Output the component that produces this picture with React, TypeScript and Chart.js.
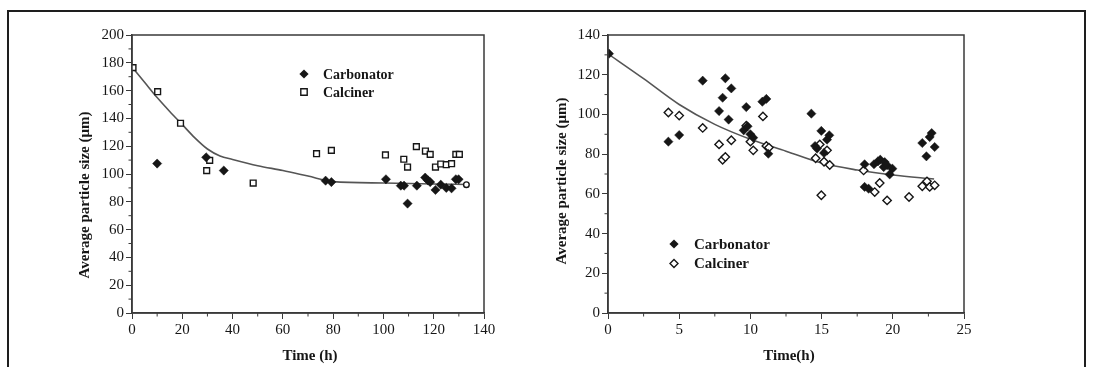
import { useEffect, useRef } from "react";
import { Chart, registerables } from "chart.js";

Chart.register(...registerables);

// ---------- Left panel data ----------
const leftCarbonatorTime = [10, 29.5, 36.5, 77, 79.3, 101, 106.9, 108.2, 109.6, 113.3, 116.6, 117.7, 118.6, 120.7, 122.8, 125, 127.1, 128.8, 129.9];
const leftCarbonatorSize = [107.5, 112, 102.5, 95.2, 94.2, 96.2, 91.6, 91.6, 78.7, 91.6, 97.4, 95.4, 94.2, 88.5, 92.3, 90, 89.7, 96.2, 96.2];
const leftCalcinerTime = [0.4, 10.2, 19.3, 29.7, 30.9, 48.2, 73.4, 79.3, 100.8, 108.1, 109.6, 113.1, 116.7, 118.6, 120.7, 122.8, 125, 127.1, 128.8, 130.2, 133];
const leftCalcinerSize = [176.5, 159.2, 136.5, 102.4, 109.8, 93.5, 114.6, 117, 113.7, 110.6, 105, 119.7, 116.5, 114.1, 105, 107.2, 106.7, 107.4, 114.1, 114.1, 92.3];
const leftFitTime = [0, 5, 10, 15, 20, 25, 30, 35, 40, 50, 60, 70, 80, 100, 120, 133];
const leftFitSize = [177, 166, 155, 145, 135.5, 126, 118, 113, 110.5, 106, 102.5, 98.5, 94.5, 93.5, 92.8, 92.5];
const leftXTicks = { min: 0, max: 140, step: 20 };
const leftYTicks = { min: 0, max: 200, step: 20 };

// ---------- Right panel data ----------
const rightCarbonatorTime = [0.07, 4.24, 5.0, 6.65, 7.8, 8.05, 8.24, 8.47, 8.66, 9.53, 9.71, 9.8, 10.0, 10.2, 10.84, 11.12, 11.26, 14.28, 14.54, 14.68, 14.98, 15.17, 15.38, 15.54, 18.02, 18.02, 18.3, 18.68, 18.96, 19.12, 19.36, 19.43, 19.6, 19.78, 19.97, 22.07, 22.36, 22.59, 22.73, 22.94];
const rightCarbonatorSize = [130.6, 86.3, 89.6, 117, 101.7, 108.4, 118.2, 97.4, 113.1, 92, 103.7, 94, 90, 88.3, 106.4, 107.8, 80.2, 100.4, 84.1, 82.8, 91.7, 80.6, 87.3, 89.5, 74.9, 63.5, 62.6, 74.9, 76.4, 77.2, 73.5, 76, 74.4, 69.8, 72.7, 85.6, 78.9, 88.6, 90.6, 83.6];
const rightCalcinerTime = [4.24, 5.0, 6.65, 7.8, 8.05, 8.24, 8.66, 9.71, 10.0, 10.2, 10.88, 11.12, 11.3, 14.58, 14.87, 14.98, 15.17, 15.38, 15.57, 17.95, 18.73, 19.08, 19.6, 21.14, 22.07, 22.4, 22.59, 22.94];
const rightCalcinerSize = [101, 99.4, 93.2, 84.9, 77.2, 78.6, 87, 94.3, 86.3, 81.9, 99, 84.1, 83.3, 77.9, 84.9, 59.3, 76.2, 81.9, 74.5, 71.8, 60.9, 65.5, 56.7, 58.4, 63.8, 66.3, 63.5, 64.3];
const rightFitTime = [0, 2.5, 5, 7.5, 10, 12.5, 15, 17.5, 20, 22.9];
const rightFitSize = [130.5, 118, 105, 95, 87.5, 81.5, 75.5, 72, 69.5, 67.5];
const rightXTicks = { min: 0, max: 25, step: 5 };
const rightYTicks = { min: 0, max: 140, step: 20 };

const seriesNames = ["Carbonator", "Calciner"];
const yTitle = "Average particle size (\u03bcm)";
const leftXTitle = "Time (h)";
const rightXTitle = "Time(h)";

const SERIF = "'Liberation Serif', 'Times New Roman', Times, serif";
const INK = "#161616";
const AXIS = "#3a3a3a";

function pts(xs: number[], ys: number[]) {
  return xs.map((x, i) => ({ x, y: ys[i] }));
}

function drawMarker(ctx: CanvasRenderingContext2D, kind: string, x: number, y: number, r: number) {
  ctx.beginPath();
  if (kind === "diamond" || kind === "openDiamond") {
    ctx.moveTo(x, y - r);
    ctx.lineTo(x + r, y);
    ctx.lineTo(x, y + r);
    ctx.lineTo(x - r, y);
    ctx.closePath();
  } else {
    ctx.rect(x - r, y - r, 2 * r, 2 * r);
  }
  if (kind === "diamond") {
    ctx.fillStyle = INK;
    ctx.fill();
  } else {
    ctx.fillStyle = "#fff";
    ctx.fill();
    ctx.strokeStyle = INK;
    ctx.lineWidth = 1.4;
    ctx.stroke();
  }
}

const decorPlugin = {
  id: "decor",
  afterDraw(chart: any, _args: any, opts: any) {
    const { ctx, chartArea } = chart;
    const { left, top, right, bottom } = chartArea;
    const xs = chart.scales.x;
    const ys = chart.scales.y;
    ctx.save();
    ctx.strokeStyle = AXIS;
    ctx.lineWidth = 1.5;
    ctx.strokeRect(left, top, right - left, bottom - top);
    ctx.lineWidth = 1;
    ctx.beginPath();
    const xt = xs.ticks;
    for (let i = 0; i < xt.length - 1; i++) {
      const px = xs.getPixelForValue((xt[i].value + xt[i + 1].value) / 2);
      ctx.moveTo(px, bottom);
      ctx.lineTo(px, bottom + 3.5);
    }
    const yt = ys.ticks;
    for (let i = 0; i < yt.length - 1; i++) {
      const py = ys.getPixelForValue((yt[i].value + yt[i + 1].value) / 2);
      ctx.moveTo(left, py);
      ctx.lineTo(left - 3.5, py);
    }
    ctx.stroke();
    ctx.fillStyle = INK;
    ctx.font = `bold 15px ${SERIF}`;
    ctx.textAlign = "center";
    ctx.textBaseline = "middle";
    ctx.fillText(opts.xTitle, (left + right) / 2 + opts.xTitleDx, opts.xTitleY);
    ctx.save();
    ctx.translate(left + opts.yTitleDx, (top + bottom) / 2 + opts.yTitleDy);
    ctx.rotate(-Math.PI / 2);
    ctx.fillText(yTitle, 0, 0);
    ctx.restore();
    const lg = opts.legend;
    ctx.font = `bold ${lg.size}px ${SERIF}`;
    ctx.textAlign = "left";
    seriesNames.forEach((name: string, i: number) => {
      const y = top + lg.dy + i * lg.gap;
      drawMarker(ctx, lg.markers[i], left + lg.dx, y, lg.r[i]);
      ctx.fillStyle = INK;
      ctx.fillText(name, left + lg.tx, y + 1);
    });
    ctx.restore();
  },
};

function makeConfig(p: any) {
  const tickFont = { family: SERIF, size: 15 };
  return {
    type: "scatter",
    data: {
      datasets: [
        {
          label: seriesNames[0],
          data: pts(p.cx, p.cy),
          pointStyle: "rectRot",
          pointRadius: 4.6,
          backgroundColor: INK,
          borderColor: INK,
          borderWidth: 0.5,
        },
        {
          label: seriesNames[1],
          data: pts(p.kx, p.ky),
          pointStyle: p.calcStyle,
          pointRadius: p.calcRadius,
          backgroundColor: "#ffffff",
          borderColor: INK,
          borderWidth: 1.4,
        },
        {
          label: "fit",
          data: pts(p.fx, p.fy),
          showLine: true,
          pointRadius: 0,
          borderColor: "#555",
          borderWidth: 1.6,
          cubicInterpolationMode: "monotone",
        },
      ],
    },
    options: {
      animation: false,
      responsive: false,
      devicePixelRatio: 1,
      layout: { padding: { top: 35, right: p.padRight, left: 0, bottom: 0 } },
      plugins: {
        legend: { display: false },
        tooltip: { enabled: false },
        decor: p.decor,
      },
      scales: {
        x: {
          type: "linear",
          min: p.xt.min,
          max: p.xt.max,
          afterFit: (s: any) => {
            s.height = 54;
          },
          border: { display: true, color: AXIS, width: 1.5 },
          grid: { drawOnChartArea: false, drawTicks: true, tickLength: 6, color: AXIS, tickWidth: 1 },
          ticks: { stepSize: p.xt.step, autoSkip: false, maxRotation: 0, font: tickFont, color: INK, padding: 2 },
        },
        y: {
          type: "linear",
          min: p.yt.min,
          max: p.yt.max,
          afterFit: (s: any) => {
            s.width = p.yWidth;
          },
          border: { display: true, color: AXIS, width: 1.5 },
          grid: { drawOnChartArea: false, drawTicks: true, tickLength: 6, color: AXIS, tickWidth: 1 },
          ticks: { stepSize: p.yt.step, autoSkip: false, font: tickFont, color: INK, padding: 2 },
        },
      },
    },
    plugins: [decorPlugin],
  };
}

function Panel(props: { cfg: any; left: number; width: number }) {
  const ref = useRef<HTMLCanvasElement | null>(null);
  useEffect(() => {
    if (!ref.current) return;
    const chart = new Chart(ref.current, props.cfg);
    return () => chart.destroy();
  }, []);
  return (
    <canvas
      ref={ref}
      width={props.width}
      height={367}
      style={{ position: "absolute", left: props.left, top: 0, width: props.width, height: 367 }}
    />
  );
}

export default function App() {
  const lastIdx = leftCalcinerTime.length - 1;
  const leftCalcStyles = leftCalcinerTime.map((_, i) => (i === lastIdx ? "circle" : "rect"));
  const leftCalcRadii = leftCalcinerTime.map((_, i) => (i === lastIdx ? 2.8 : 4.1));
  const leftCfg = makeConfig({
    cx: leftCarbonatorTime,
    cy: leftCarbonatorSize,
    kx: leftCalcinerTime,
    ky: leftCalcinerSize,
    fx: leftFitTime,
    fy: leftFitSize,
    xt: leftXTicks,
    yt: leftYTicks,
    calcStyle: leftCalcStyles,
    calcRadius: leftCalcRadii,
    padRight: 62,
    yWidth: 132,
    decor: {
      xTitle: leftXTitle,
      xTitleDx: 2,
      xTitleY: 356,
      yTitleDx: -47,
      yTitleDy: 21,
      legend: { dx: 172, tx: 191, dy: 39, gap: 18, size: 14, r: [4.6, 3.2], markers: ["diamond", "square"] },
    },
  });
  const rightCfg = makeConfig({
    cx: rightCarbonatorTime,
    cy: rightCarbonatorSize,
    kx: rightCalcinerTime,
    ky: rightCalcinerSize,
    fx: rightFitTime,
    fy: rightFitSize,
    xt: rightXTicks,
    yt: rightYTicks,
    calcStyle: "rectRot",
    calcRadius: 4.2,
    padRight: 129,
    yWidth: 62,
    decor: {
      xTitle: rightXTitle,
      xTitleDx: 3,
      xTitleY: 356,
      yTitleDx: -46,
      yTitleDy: 7,
      legend: { dx: 66, tx: 86, dy: 209, gap: 19.5, size: 15, r: [4.6, 4.0], markers: ["diamond", "openDiamond"] },
    },
  });
  return (
    <div style={{ position: "absolute", left: 0, top: 0, width: 1093, height: 367, overflow: "hidden", background: "#fff" }}>
      <div
        style={{
          position: "absolute",
          left: 7,
          top: 10,
          width: 1079,
          height: 420,
          border: "2px solid #1e1e1e",
          boxSizing: "border-box",
        }}
      />
      <Panel cfg={leftCfg} left={0} width={546} />
      <Panel cfg={rightCfg} left={546} width={547} />
    </div>
  );
}
